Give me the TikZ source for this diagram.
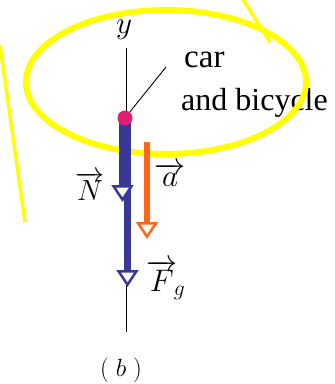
\documentclass[tikz,border=0pt]{standalone}
\usepackage{fontspec}
\setmainfont{Liberation Serif}
\usetikzlibrary{arrows.meta, positioning}

\definecolor{forceblue}{RGB}{58,56,150}
\definecolor{accelorange}{RGB}{255,102,26}
\definecolor{markyellow}{RGB}{255,255,0}
\definecolor{dotpink}{RGB}{222,32,112}

\begin{document}
\begin{tikzpicture}[
        x=1pt, y=-1pt,
        % vector arrows with open (white) triangle heads
        vecarrow/.style={
            -{Triangle[length=17pt, width=22pt, line width=2.5pt, fill=white]},
            line width=7pt,
            draw=#1
        },
        % yellow highlighter strokes
        highlight/.style={
            draw=markyellow,
            line width=#1
        },
        mathlbl/.style={inner sep=0pt, font=\fontsize{20.74}{20.74}\selectfont,
            scale=#1, transform shape},
        mathlbl/.default=1.5,
        wordlbl/.style={inner sep=0pt, anchor=base west, font=\fontsize{32}{32}\selectfont}
    ]
    \useasboundingbox (0,0) rectangle (335,384);

    % ================= labels =================
    \node[wordlbl, font=\fontsize{33}{33}\selectfont] (car) at (184,67) {car};
    \node[wordlbl] (bike) at (181,110) {and bicycle};

    % ================= highlight marks =================
    \draw[highlight=6pt] (166,82) ellipse [x radius=140, y radius=72];
    \draw[highlight=3.5pt] (0,45) -- (25,222);
    \draw[highlight=3.5pt] (242,-2) -- (270,42);

    % ================= axis =================
    \coordinate (axtop) at (126.5,48);
    \coordinate (axbot) at (126.5,332);
    \node[mathlbl] (ylbl) at (124,30) {$y$};
    \draw[line width=1.5pt] (axtop) -- (axbot);

    % ================= vectors =================
    \coordinate (Fgfrom) at (127.5,118);
    \coordinate (Fgto) at (127.5,287);
    \coordinate (Nfrom) at (122.5,118);
    \coordinate (Nto) at (122.5,202);
    \coordinate (afrom) at (147,142);
    \coordinate (ato) at (147,239);
    \draw[vecarrow=forceblue] (Fgfrom) -- (Fgto);
    \draw[vecarrow=forceblue] (Nfrom) -- (Nto);
    \draw[vecarrow=accelorange, line width=6pt] (afrom) -- (ato);

    % body dot and leader line to the label
    \node[circle, fill=dotpink, minimum size=15pt, inner sep=0pt] (dot) at (125,118) {};
    \coordinate (lead) at (166,67);
    \draw[line width=0.9pt] (dot) -- (lead);

    \node[mathlbl=1.4] (Nlbl) at (90,186) {$\overrightarrow{N}$};
    \node[mathlbl] (albl) at (170,175) {$\overrightarrow{a}$};
    \node[mathlbl, anchor=west] (Fglbl) at (146,280) {$\overrightarrow{F}_{\!g}$};
    \node[mathlbl=1.2] (cap) at (121,370) {$(\;b\;)$};
\end{tikzpicture}
\end{document}
